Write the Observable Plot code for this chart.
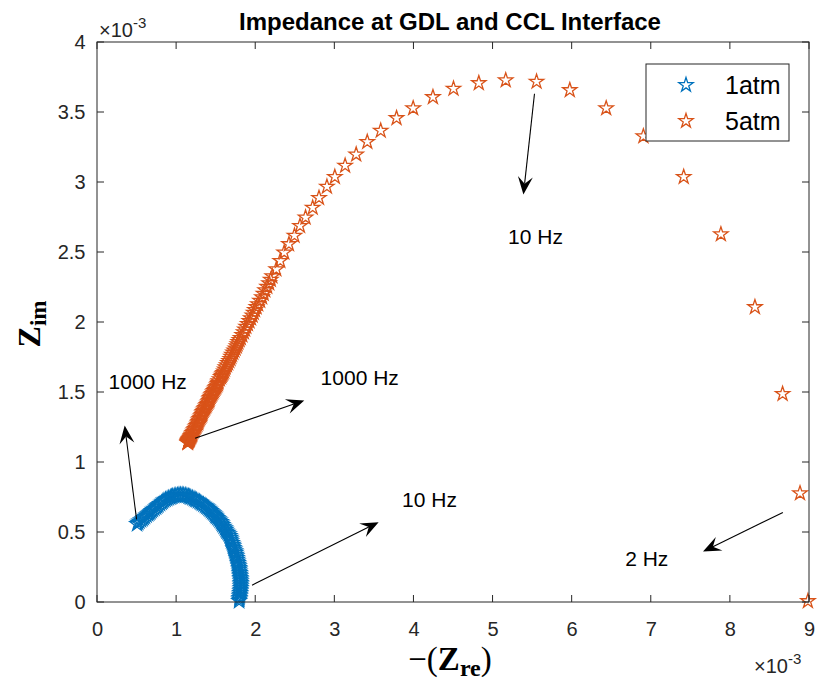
<!DOCTYPE html>
<html>
<head>
<meta charset="utf-8">
<script src="https://cdn.jsdelivr.net/npm/d3@7"></script>
<script src="https://cdn.jsdelivr.net/npm/@observablehq/plot@0.6"></script>
<style>
  body { margin: 0; background: #fff; }
  #chart { width: 818px; height: 684px; }
</style>
</head>
<body>
<div id="chart"></div>
<script>
// ---- data (values in units of 1e-3) ----
const xTicks = [0, 1, 2, 3, 4, 5, 6, 7, 8, 9];
const yTicks = [0, 0.5, 1, 1.5, 2, 2.5, 3, 3.5, 4];

const seriesNames = ["1atm", "5atm"];
const seriesColors = ["#0072BD", "#D95319"];

// 1 atm : -(Z_re), Z_im
const blueRe = [0.50,0.515,0.53,0.55,0.57,0.585,0.60,0.62,0.64,0.655,0.67,0.685,0.70,0.72,0.74,0.755,0.77,0.79,0.81,0.825,
  0.84,0.86,0.88,0.90,0.92,0.935,0.95,0.97,0.99,1.01,1.03,1.05,1.07,1.09,1.11,1.13,1.15,1.165,1.18,1.20,
  1.22,1.235,1.25,1.27,1.29,1.305,1.32,1.34,1.36,1.375,1.39,1.405,1.42,1.435,1.45,1.465,1.48,1.49,1.50,1.515,
  1.53,1.545,1.56,1.57,1.58,1.595,1.61,1.62,1.63,1.645,1.66,1.67,1.68,1.685,1.69,1.70,1.71,1.715,1.72,1.73,
  1.74,1.745,1.75,1.755,1.76,1.765,1.77,1.775,1.78,1.785,1.79,1.793,1.795,1.798,1.80,1.803,1.805,1.808,1.81,1.81,
  1.81,1.81,1.81,1.808,1.805,1.803,1.80,1.798,1.795,1.793,1.79];
const blueIm = [0.560,0.569,0.578,0.587,0.595,0.604,0.612,0.621,0.630,0.638,0.645,0.654,0.662,0.670,0.678,0.687,0.695,0.704,0.712,0.720,
  0.728,0.734,0.740,0.745,0.750,0.754,0.758,0.761,0.764,0.766,0.768,0.768,0.768,0.767,0.765,0.762,0.758,0.754,0.750,0.745,
  0.740,0.735,0.730,0.724,0.718,0.712,0.705,0.699,0.692,0.685,0.678,0.670,0.662,0.654,0.645,0.637,0.628,0.620,0.612,0.604,
  0.595,0.585,0.575,0.564,0.553,0.542,0.530,0.519,0.508,0.498,0.488,0.476,0.463,0.451,0.438,0.426,0.413,0.402,0.390,0.379,
  0.367,0.355,0.342,0.330,0.318,0.306,0.293,0.282,0.270,0.259,0.247,0.235,0.222,0.210,0.198,0.187,0.175,0.164,0.152,0.140,
  0.128,0.116,0.104,0.092,0.080,0.068,0.056,0.044,0.032,0.021,0.010];

// 5 atm : -(Z_re), Z_im
const orangeRe = [1.14,1.14,1.142,1.145,1.148,1.15,1.153,1.155,1.158,1.16,1.163,1.165,1.17,1.175,1.18,1.185,1.19,1.195,1.20,1.21,
  1.22,1.23,1.24,1.25,1.26,1.27,1.275,1.28,1.29,1.30,1.31,1.32,1.325,1.33,1.34,1.35,1.36,1.37,1.38,1.39,
  1.40,1.41,1.415,1.42,1.43,1.44,1.45,1.46,1.47,1.48,1.49,1.50,1.51,1.52,1.525,1.53,1.545,1.56,1.57,1.58,
  1.59,1.60,1.61,1.62,1.635,1.65,1.665,1.68,1.69,1.70,1.715,1.73,1.745,1.76,1.77,1.78,1.795,1.81,1.83,1.85,
  1.865,1.88,1.90,1.92,1.94,1.96,1.975,1.99,2.01,2.03,2.055,2.08,2.10,2.12,2.145,2.17,2.19,2.21,2.26,2.31,2.36,
  2.42,2.49,2.56,2.63,2.72,2.80,2.90,3.00,3.13,3.27,3.41,3.58,3.78,3.99,4.24,4.50,4.82,5.16,5.55,5.97,
  6.43,6.90,7.41,7.88,8.31,8.66,8.88,8.98];
const orangeIm = [1.14,1.143,1.146,1.15,1.153,1.155,1.158,1.16,1.163,1.165,1.168,1.17,1.175,1.18,1.185,1.19,1.195,1.20,1.21,1.22,
  1.23,1.24,1.25,1.26,1.27,1.28,1.29,1.30,1.31,1.32,1.33,1.34,1.35,1.36,1.37,1.38,1.39,1.40,1.41,1.42,
  1.43,1.44,1.45,1.46,1.47,1.48,1.49,1.50,1.51,1.52,1.53,1.54,1.55,1.56,1.57,1.58,1.595,1.61,1.62,1.63,
  1.64,1.65,1.665,1.68,1.695,1.71,1.725,1.74,1.755,1.77,1.785,1.80,1.815,1.83,1.845,1.86,1.875,1.89,1.91,1.93,
  1.95,1.97,1.99,2.01,2.03,2.05,2.07,2.09,2.11,2.13,2.155,2.18,2.205,2.23,2.255,2.28,2.305,2.33,2.38,2.44,2.50,
  2.56,2.62,2.69,2.75,2.82,2.89,2.97,3.04,3.12,3.20,3.29,3.37,3.46,3.53,3.61,3.67,3.71,3.73,3.72,3.66,
  3.53,3.33,3.04,2.63,2.11,1.49,0.78,0.01];

// annotations
const annotText = ["1000 Hz", "1000 Hz", "10 Hz", "10 Hz", "2 Hz"];
const annotX = [0.14, 2.82, 3.85, 5.19, 6.67];
const annotY = [1.57, 1.60, 0.73, 2.61, 0.31];

const arrowX1 = [0.50, 1.24, 1.96, 5.53, 8.67];
const arrowY1 = [0.59, 1.17, 0.12, 3.63, 0.64];
const arrowX2 = [0.35, 2.62, 3.56, 5.39, 7.66];
const arrowY2 = [1.26, 1.44, 0.57, 2.91, 0.36];

const titleText = "Impedance at GDL and CCL Interface";

// ---- build tables ----
const blue = blueRe.map((v, i) => ({re: v, im: blueIm[i]}));
const orange = orangeRe.map((v, i) => ({re: v, im: orangeIm[i]}));
const annots = annotText.map((t, i) => ({text: t, x: annotX[i], y: annotY[i]}));
const arrows = arrowX1.map((v, i) => ({x1: v, y1: arrowY1[i], x2: arrowX2[i], y2: arrowY2[i]}));

const FONT = "'Liberation Sans', Arial, Helvetica, sans-serif";
const SERIF = "'Liberation Serif', 'Times New Roman', serif";
const AX = "#262626";
const R = 4.5;

function starPath(r) {
  return d3.symbol(d3.symbolStar, r * r * Math.PI)();
}

const plot = Plot.plot({
  width: 818,
  height: 684,
  marginLeft: 97,
  marginRight: 9,
  marginTop: 42,
  marginBottom: 82,
  x: {domain: [0, 9]},
  y: {domain: [0, 4]},
  style: {fontFamily: FONT, background: "white", color: AX, overflow: "visible"},
  marks: [
    Plot.axisX(xTicks, {anchor: "bottom", tickSize: 0, tickPadding: 19, fontSize: 20, label: null, tickFormat: d => String(d), fill: AX}),
    Plot.axisY(yTicks, {anchor: "left", tickSize: 0, tickPadding: 12, fontSize: 20, label: null, tickFormat: d => String(d), fill: AX}),
    Plot.dot(blue, {x: "re", y: "im", symbol: "star", r: R, stroke: seriesColors[0], strokeWidth: 1.3, fill: "none"}),
    Plot.dot(orange, {x: "re", y: "im", symbol: "star", r: R, stroke: seriesColors[1], strokeWidth: 1.3, fill: "none"}),
    Plot.text(annots, {x: "x", y: "y", text: "text", textAnchor: "start", fontSize: 21, fill: "black"}),
    // arrows with filled MATLAB-like heads
    (index, {x, y}) => {
      const g = d3.create("svg:g");
      for (const a of arrows) {
        const X1 = x(a.x1), Y1 = y(a.y1), X2 = x(a.x2), Y2 = y(a.y2);
        const ang = Math.atan2(Y2 - Y1, X2 - X1), c = Math.cos(ang), s = Math.sin(ang);
        const L = 18, W = 15, N = 11;
        g.append("line")
          .attr("x1", X1).attr("y1", Y1)
          .attr("x2", X2 - N * c).attr("y2", Y2 - N * s)
          .attr("stroke", "black").attr("stroke-width", 1.1);
        const pts = [
          [X2, Y2],
          [X2 - L * c - (W / 2) * s, Y2 - L * s + (W / 2) * c],
          [X2 - N * c, Y2 - N * s],
          [X2 - L * c + (W / 2) * s, Y2 - L * s - (W / 2) * c]
        ];
        g.append("path").attr("d", "M" + pts.map(p => p.join(",")).join("L") + "Z").attr("fill", "black");
      }
      return g.node();
    },
    // box with inward ticks, exponent labels, title, axis labels
    (index, {x, y}) => {
      const g = d3.create("svg:g").attr("text-anchor", "start");
      const x0 = x(0), x9 = x(9), yb = y(0), yt = y(4);
      const T = 7;
      g.append("rect").attr("x", x0).attr("y", yt).attr("width", x9 - x0).attr("height", yb - yt)
        .attr("fill", "none").attr("stroke", AX).attr("stroke-width", 1);
      for (const t of xTicks) {
        const px = x(t);
        g.append("line").attr("x1", px).attr("x2", px).attr("y1", yb).attr("y2", yb - T).attr("stroke", AX);
        g.append("line").attr("x1", px).attr("x2", px).attr("y1", yt).attr("y2", yt + T).attr("stroke", AX);
      }
      for (const t of yTicks) {
        const py = y(t);
        g.append("line").attr("y1", py).attr("y2", py).attr("x1", x0).attr("x2", x0 + T).attr("stroke", AX);
        g.append("line").attr("y1", py).attr("y2", py).attr("x1", x9).attr("x2", x9 - T).attr("stroke", AX);
      }
      // exponent labels
      const e1 = g.append("text").attr("x", x0 + 2).attr("y", yt - 5).attr("text-anchor", "start")
        .attr("font-size", 20).attr("fill", AX).attr("font-family", FONT);
      e1.append("tspan").text("\u00d710");
      e1.append("tspan").attr("dy", -9).attr("font-size", 15).text("-3");
      const e2 = g.append("text").attr("x", x9 - 55).attr("y", 673).attr("text-anchor", "start")
        .attr("font-size", 20).attr("fill", AX).attr("font-family", FONT);
      e2.append("tspan").text("\u00d710");
      e2.append("tspan").attr("dy", -9).attr("font-size", 15).text("-3");
      // title
      g.append("text").attr("x", (x0 + x9) / 2 - 3).attr("y", 30).attr("text-anchor", "middle")
        .attr("font-size", 24).attr("font-weight", "bold").attr("fill", "black").attr("font-family", FONT)
        .text(titleText);
      // x label
      const xl = g.append("text").attr("x", (x0 + x9) / 2 - 3).attr("y", 670).attr("text-anchor", "middle")
        .attr("font-size", 33).attr("fill", "black").attr("font-family", SERIF);
      xl.append("tspan").text("\u2212(");
      xl.append("tspan").attr("font-weight", "bold").text("Z");
      xl.append("tspan").attr("font-weight", "bold").attr("font-size", 24).attr("dy", 6).text("re");
      xl.append("tspan").attr("dy", -6).text(")");
      // y label
      const yl = g.append("text").attr("transform", `translate(40,${(yt + yb) / 2 + 2}) rotate(-90)`).attr("text-anchor", "middle")
        .attr("font-size", 32).attr("fill", "black").attr("font-family", SERIF);
      yl.append("tspan").attr("font-weight", "bold").text("Z");
      yl.append("tspan").attr("font-weight", "bold").attr("font-size", 23).attr("dy", 6).text("im");
      return g.node();
    },
    // legend
    () => {
      const g = d3.create("svg:g").attr("text-anchor", "start");
      g.append("rect").attr("x", 646).attr("y", 64).attr("width", 143).attr("height", 77)
        .attr("fill", "white").attr("stroke", AX).attr("stroke-width", 1);
      seriesNames.forEach((name, i) => {
        const cy = 85 + i * 36;
        g.append("path").attr("d", starPath(R)).attr("transform", `translate(686,${cy})`)
          .attr("fill", "none").attr("stroke", seriesColors[i]).attr("stroke-width", 1.3);
        g.append("text").attr("x", 725).attr("y", cy).attr("dy", "0.35em").attr("text-anchor", "start")
          .attr("font-size", 25).attr("fill", "black").attr("font-family", FONT).text(name);
      });
      return g.node();
    }
  ]
});

document.getElementById("chart").appendChild(plot);
</script>
</body>
</html>
